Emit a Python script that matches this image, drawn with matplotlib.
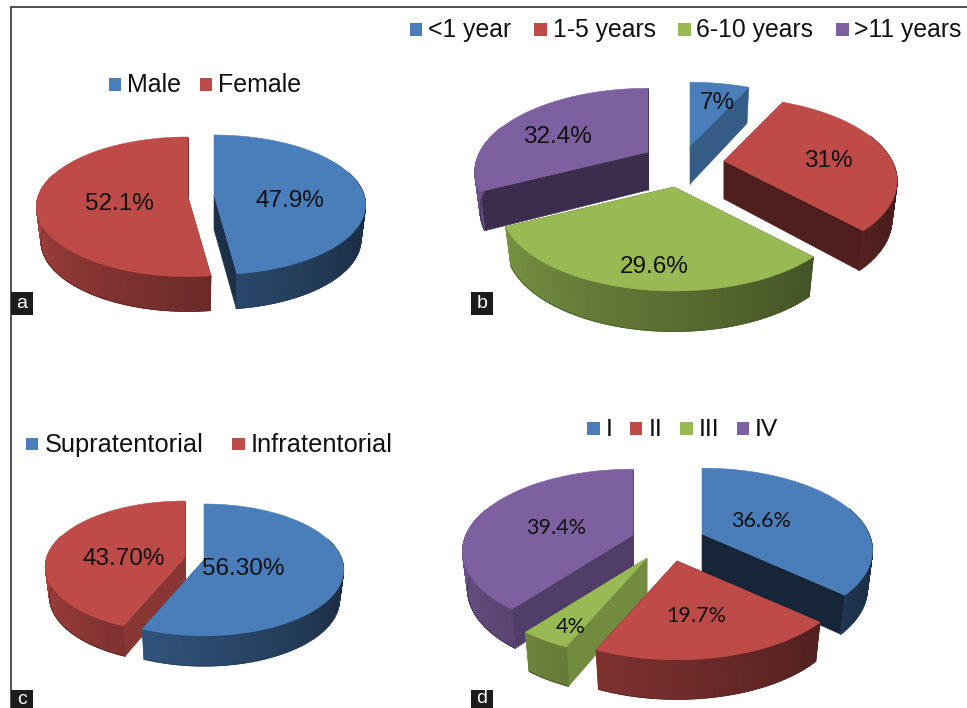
import numpy as np
import matplotlib
matplotlib.use("Agg")
import matplotlib.pyplot as plt
from matplotlib.patches import Polygon, Rectangle
from matplotlib.colors import to_rgb, LinearSegmentedColormap

plt.rcParams['font.family'] = ['Liberation Sans', 'DejaVu Sans']

# Data
sex_labels = ["Male", "Female"]
sex_values = [47.9, 52.1]
sex_text = ["47.9%", "52.1%"]

duration_labels = ["<1 year", "1-5 years", "6-10 years", ">11 years"]
duration_values = [7, 31, 29.6, 32.4]
duration_text = ["7%", "31%", "29.6%", "32.4%"]

location_labels = ["Supratentorial", "Infratentorial"]
location_values = [56.3, 43.7]
location_text = ["56.30%", "43.70%"]

grade_labels = ["I", "II", "III", "IV"]
grade_values = [36.6, 19.7, 4, 39.4]
grade_text = ["36.6%", "19.7%", "4%", "39.4%"]

colors = ["#4a7ebb", "#be4b48", "#98b954", "#7d60a0"]

fig = plt.figure(figsize=(9.67, 7.08), dpi=100)
ax = fig.add_axes([0, 0, 1, 1])
ax.set_xlim(0, 967)
ax.set_ylim(708, 0)
ax.axis("off")


def shade(color, f):
    return tuple(c * f for c in to_rgb(color))


def rim(theta, apex, rx, ry, p, depth=0.0, shrink=1.0):
    # theta in degrees clockwise from top, far side is squeezed by perspective
    t = np.radians(theta)
    s = 1 / (1 + p * np.cos(t))
    x = apex[0] + shrink * rx * np.sin(t) * s
    y = apex[1] - shrink * ry * np.cos(t) * s + depth * np.sqrt(s)
    return x, y


def wall_shade(theta):
    return np.minimum(0.33 + (theta - 100) * 0.00324, 0.9)


def pie3d(values, pie_colors, apexes, rx, ry, p, depth, face_shades):
    values = np.array(values, dtype=float)
    edges = np.concatenate([[0], np.cumsum(values)]) / values.sum() * 360
    mids = (edges[:-1] + edges[1:]) / 2
    # far slices first so the near ones sit on top
    for i in np.argsort(-np.cos(np.radians(mids))):
        a0, a1 = edges[i], edges[i + 1]
        apex = apexes[i]
        col = pie_colors[i]
        order = 2 + 0.01 * (np.cos(np.radians(0)) - np.cos(np.radians(mids[i])))

        # cut faces
        for a in (a0, a1):
            x, y = rim(a, apex, rx, ry, p)
            xb, yb = rim(a, apex, rx, ry, p, depth, 0.97)
            pts = [apex, (x, y), (xb, yb), (apex[0], apex[1] + depth)]
            ax.add_patch(Polygon(pts, closed=True, fc=shade(col, face_shades[i]),
                                 ec=shade(col, face_shades[i]), lw=0.4, zorder=order))

        # outer wall, only on the side facing us
        w0, w1 = max(a0, 70), min(a1, 290)
        if w1 > w0:
            th = np.linspace(w0, w1, 120)
            xt, yt = rim(th, apex, rx, ry, p)
            xb, yb = rim(th, apex, rx, ry, p, depth, 0.97)
            cmap = LinearSegmentedColormap.from_list("w", [(0, 0, 0), to_rgb(col)])
            ax.pcolormesh(np.vstack([xt, xb]), np.vstack([yt, yb]),
                          np.vstack([wall_shade(th), wall_shade(th)]),
                          shading="gouraud", cmap=cmap, vmin=0, vmax=1, zorder=order)
            # soften the lower rim
            ax.plot(xb, yb, color=shade(col, 0.5), lw=0.6, zorder=order)

        # top face
        th = np.linspace(a0, a1, 200)
        xs, ys = rim(th, apex, rx, ry, p)
        pts = [apex] + list(zip(xs, ys))
        ax.add_patch(Polygon(pts, closed=True, fc=col, ec=col, lw=0.4, zorder=order + 0.001))


def legend(labels, boxes, texts, y, size, **kw):
    for i, lab in enumerate(labels):
        ax.add_patch(Rectangle((boxes[i], y - 6), 12.5, 12.5, fc=colors[i], ec="none", zorder=3))
        ax.text(texts[i], y + 1.5, lab, fontsize=size, va="center", ha="left",
                color="#111111", zorder=4, **kw)


def labels_at(texts, xs, ys, size, **kw):
    for t, x, y in zip(texts, xs, ys):
        ax.text(x, y, t, fontsize=size, ha="center", va="center",
                color="#111111", zorder=4, **kw)


# Panel a
pie3d(sex_values, colors, [(214, 195), (188, 197)], 150, 68.4, 0.14, 34.5, [0.38, 0.5])
legend(sex_labels, [108.5, 199.5], [127, 218], 84, 18)
labels_at(sex_text, [290, 119], [201, 204], 17.5)

# Panel b
pie3d(duration_values, colors, [(690, 146), (724, 161), (674, 187), (648, 152)],
      168, 79, 0.24, 38, [0.72, 0.41, 0.5, 0.47])
legend(duration_labels, [409.5, 534, 678, 836], [428, 553, 696, 854], 29, 17.8)
labels_at(duration_text, [717, 828, 654, 557], [103, 161, 267, 137], 17.5)

# Panel c
pie3d(location_values, colors, [(204, 560), (185, 557)], 138, 64.4, 0.15, 30, [0.5, 0.72])
legend(location_labels, [25.5, 232], [45, 251], 443.5, 18.3)
labels_at(location_text, [243, 124], [569, 559], 17.5)

# Panel d
pie3d(grade_values, colors, [(702, 534), (677, 561), (647, 558), (633, 535)],
      167, 79, 0.2, 38, [0.3, 0.4, 0.75, 0.65])
legend(grade_labels, [587, 629.5, 680, 736.5], [606, 649, 699, 755], 428, 17.5, family="Lato")
labels_at(grade_text, [761, 696, 571, 556], [521, 616, 627, 528], 15.5, family="Lato")

# Frame and panel tags
ax.plot([10.5, 10.5, 967], [708, 6.5, 6.5], color="#333333", lw=1.2, zorder=5, solid_joinstyle="miter")
tags = ["a", "b", "c", "d"]
tag_x = [11, 471, 11, 471]
tag_y = [292, 292, 690, 690]
tag_text_y = [303.5, 303.5, 699.5, 698.5]
for t, x, y, ty in zip(tags, tag_x, tag_y, tag_text_y):
    ax.add_patch(Rectangle((x, y), 22, 23, fc="#1c1c1c", ec="none", zorder=6))
    ax.text(x + 11, ty, t, color="white", fontsize=14, ha="center", va="center", zorder=7)

fig.savefig("out.png", dpi=100)
